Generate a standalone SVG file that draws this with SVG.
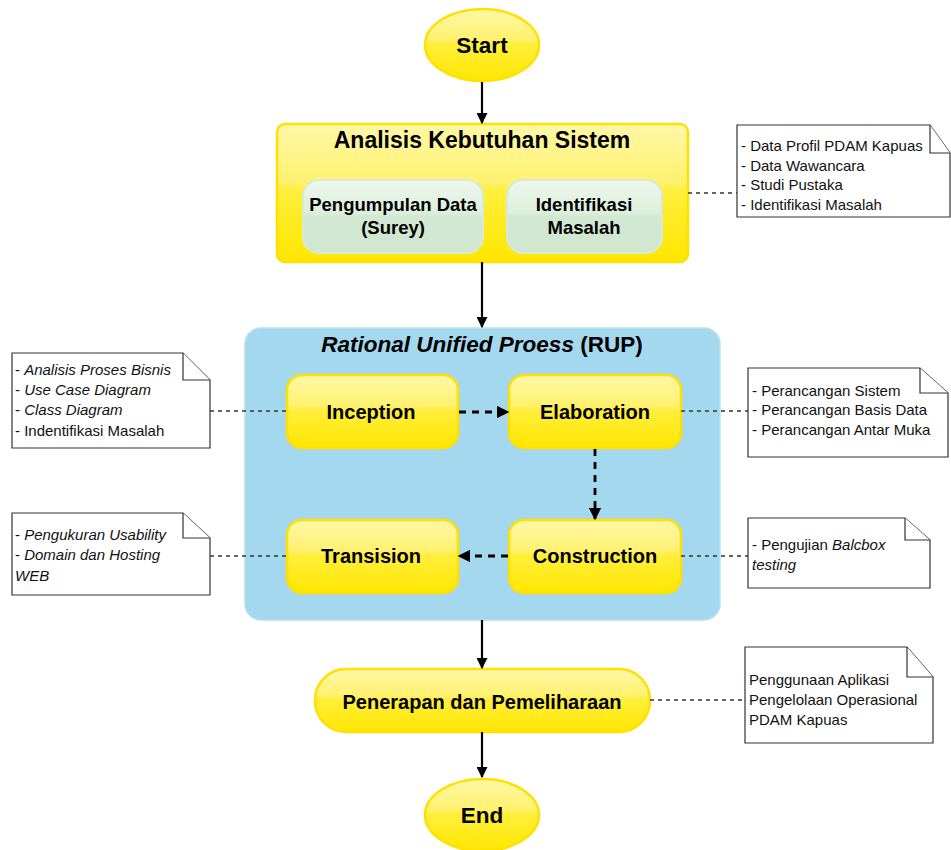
<svg xmlns="http://www.w3.org/2000/svg" width="951" height="850" viewBox="0 0 951 850">
<defs>
<linearGradient id="yel" x1="0" y1="0" x2="0" y2="1">
<stop offset="0" stop-color="#fff8a8"/>
<stop offset="0.42" stop-color="#fff170"/>
<stop offset="0.48" stop-color="#ffef3c"/>
<stop offset="1" stop-color="#ffe600"/>
</linearGradient>
<linearGradient id="grn" x1="0" y1="0" x2="0" y2="1">
<stop offset="0" stop-color="#eef7ee"/>
<stop offset="0.45" stop-color="#dcefdc"/>
<stop offset="0.5" stop-color="#d2e8d2"/>
<stop offset="1" stop-color="#cfe6cf"/>
</linearGradient>
<marker id="ah" viewBox="0 0 10 10" refX="9" refY="5" markerWidth="5" markerHeight="5" orient="auto" markerUnits="strokeWidth">
<path d="M0,0 L10,5 L0,10 Z" fill="#000"/>
</marker>
<marker id="ahd" viewBox="0 0 10 10" refX="9" refY="5" markerWidth="4.5" markerHeight="4.5" orient="auto" markerUnits="strokeWidth">
<path d="M0,0 L10,5 L0,10 Z" fill="#000"/>
</marker>
</defs>
<style>
.y{fill:url(#yel);stroke:#ffe000;stroke-width:2.5}
.g{fill:url(#grn);stroke:#d6ead6;stroke-width:2}
.t{font-family:"Liberation Sans",Arial,sans-serif;font-weight:bold;fill:#000;text-anchor:middle}
.n{fill:#fff;stroke:#333;stroke-width:1.2}
.nt{font-family:"Liberation Sans",Arial,sans-serif;font-size:15px;fill:#111}
.main{stroke:#000;stroke-width:2.2;fill:none;marker-end:url(#ah)}
.rup{stroke:#000;stroke-width:2.8;fill:none;stroke-dasharray:7,6;marker-end:url(#ahd)}
.dl{stroke:#333;stroke-width:1.5;fill:none;stroke-dasharray:4,4}
</style>

<g id="start">
<ellipse class="y" cx="482" cy="45" rx="57" ry="36"/>
<text class="t" x="482" y="53" font-size="22.5">Start</text>
</g>

<g id="analisis">
<rect class="y" x="277" y="124" width="411" height="138" rx="8"/>
<text class="t" x="482" y="148" font-size="23">Analisis Kebutuhan Sistem</text>
</g>
<g id="pengumpulan">
<rect class="g" x="303" y="180" width="180" height="73" rx="16"/>
<text class="t" x="393" y="211" font-size="18.5">Pengumpulan Data</text>
<text class="t" x="393" y="234" font-size="18.5">(Surey)</text>
</g>
<g id="identifikasi">
<rect class="g" x="507" y="180" width="155" height="73" rx="16"/>
<text class="t" x="584" y="211" font-size="18.5">Identifikasi</text>
<text class="t" x="584" y="234" font-size="18.5">Masalah</text>
</g>
<g id="note-analisis">
<path class="n" d="M737,125 H930 L950,153 V217 H737 Z"/>
<path class="n" d="M930,125 V153 H950" fill="none"/>
<text class="nt" x="741" y="151">- Data Profil PDAM Kapuas</text>
<text class="nt" x="741" y="171">- Data Wawancara</text>
<text class="nt" x="741" y="190">- Studi Pustaka</text>
<text class="nt" x="741" y="210">- Identifikasi Masalah</text>
</g>

<g id="rup">
<rect x="245" y="328" width="475" height="292" rx="16" fill="#a3d8ee" stroke="#b5e0f2" stroke-width="1.5"/>
<text class="t" x="482" y="352" font-size="22.5"><tspan font-style="italic">Rational Unified Proess</tspan> (RUP)</text>
</g>
<g id="inception">
<rect class="y" x="287" y="375" width="171" height="73" rx="15"/>
<text class="t" x="371" y="419" font-size="20">Inception</text>
</g>
<g id="elaboration">
<rect class="y" x="509" y="375" width="172" height="73" rx="15"/>
<text class="t" x="595" y="419" font-size="20">Elaboration</text>
</g>
<g id="transision">
<rect class="y" x="287" y="520" width="171" height="73" rx="15"/>
<text class="t" x="371" y="563" font-size="20">Transision</text>
</g>
<g id="construction">
<rect class="y" x="509" y="520" width="172" height="73" rx="15"/>
<text class="t" x="595" y="563" font-size="20">Construction</text>
</g>

<g id="note-inception">
<path class="n" d="M12,353 H183 L210,380 V448 H12 Z"/>
<path class="n" d="M183,353 V380 H210" fill="none"/>
<text class="nt" x="15" y="375">- <tspan font-style="italic">Analisis Proses Bisnis</tspan></text>
<text class="nt" x="15" y="395">- <tspan font-style="italic">Use Case Diagram</tspan></text>
<text class="nt" x="15" y="415">- <tspan font-style="italic">Class Diagram</tspan></text>
<text class="nt" x="15" y="436">- Indentifikasi Masalah</text>
</g>
<g id="note-elaboration">
<path class="n" d="M748,368 H920 L948,393 V457 H748 Z"/>
<path class="n" d="M920,368 V393 H948" fill="none"/>
<text class="nt" x="752" y="396">- Perancangan Sistem</text>
<text class="nt" x="752" y="415">- Perancangan Basis Data</text>
<text class="nt" x="752" y="435">- Perancangan Antar Muka</text>
</g>
<g id="note-transision">
<path class="n" d="M12,513 H183 L210,538 V595 H12 Z"/>
<path class="n" d="M183,513 V538 H210" fill="none"/>
<text class="nt" x="15" y="540">- <tspan font-style="italic">Pengukuran Usability</tspan></text>
<text class="nt" x="15" y="560">- <tspan font-style="italic">Domain dan Hosting</tspan></text>
<text class="nt" x="15" y="581" font-style="italic">WEB</text>
</g>
<g id="note-construction">
<path class="n" d="M748,518 H905 L930,540 V588 H748 Z"/>
<path class="n" d="M905,518 V540 H930" fill="none"/>
<text class="nt" x="752" y="550">- Pengujian <tspan font-style="italic">Balcbox</tspan></text>
<text class="nt" x="752" y="570" font-style="italic">testing</text>
</g>

<g id="penerapan">
<rect class="y" x="315" y="669" width="335" height="63" rx="31"/>
<text class="t" x="482" y="709" font-size="20">Penerapan dan Pemeliharaan</text>
</g>
<g id="note-penerapan">
<path class="n" d="M745,647 H907 L933,677 V743 H745 Z"/>
<path class="n" d="M907,647 V677 H933" fill="none"/>
<text class="nt" x="749" y="685">Penggunaan Aplikasi</text>
<text class="nt" x="749" y="705">Pengelolaan Operasional</text>
<text class="nt" x="749" y="725">PDAM Kapuas</text>
</g>

<g id="end">
<ellipse class="y" cx="482" cy="815" rx="57" ry="36"/>
<text class="t" x="482" y="823" font-size="22.5">End</text>
</g>

<g id="connectors">
<line class="main" x1="482" y1="82" x2="482" y2="123"/>
<line class="main" x1="482" y1="262" x2="482" y2="327"/>
<line class="main" x1="482" y1="620" x2="482" y2="668"/>
<line class="main" x1="482" y1="732" x2="482" y2="777"/>
<line class="rup" x1="459" y1="412" x2="508" y2="412"/>
<line class="rup" x1="595" y1="449" x2="595" y2="519"/>
<line class="rup" x1="508" y1="556" x2="459" y2="556"/>
<line class="dl" x1="688" y1="193" x2="737" y2="193"/>
<line class="dl" x1="210" y1="411" x2="287" y2="411"/>
<line class="dl" x1="681" y1="411" x2="748" y2="411"/>
<line class="dl" x1="210" y1="556" x2="287" y2="556"/>
<line class="dl" x1="681" y1="556" x2="748" y2="556"/>
<line class="dl" x1="650" y1="700" x2="745" y2="700"/>
</g>
</svg>
